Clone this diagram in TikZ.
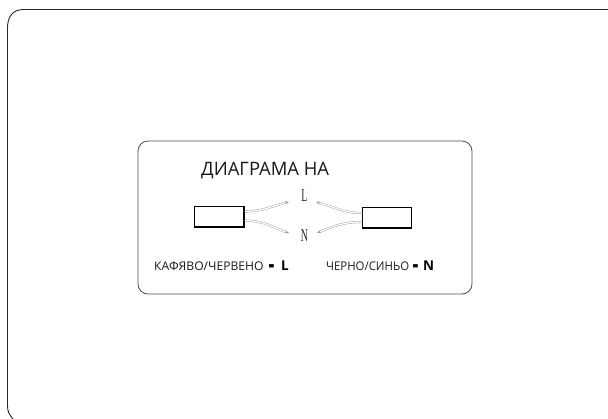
\documentclass[tikz,border=0pt]{standalone}
\usepackage{fontspec}
\usetikzlibrary{arrows.meta}
\setmainfont{Open Sans}
\newfontfamily\serifcond{Liberation Serif}
\begin{document}
\begin{tikzpicture}[x=1pt,y=-1pt,
  frameline/.style={draw=black!85,line width=0.9pt},
  panel/.style={draw=black!70,line width=0.8pt,rounded corners=10pt},
  boxnode/.style={draw=black,line width=1.4pt,fill=white,inner sep=0pt,minimum width=#1,minimum height=20.5pt},
  wire/.style={draw=black!40,line width=0.4pt,double=white,double distance=1.3pt,-{Stealth[length=4pt,width=3pt]}},
  termlabel/.style={font=\serifcond\fontsize{18}{18}\selectfont,xscale=0.55,inner sep=0pt,text=black!85},
  caption/.style={font=\fontsize{12}{12}\selectfont,xscale=1.01,inner sep=0pt,text=black!90,anchor=base west},
  heading/.style={font=\fontsize{18.5}{18.5}\selectfont,xscale=0.995,inner sep=0pt,text=black!90,anchor=base west},
  keyletter/.style={font=\bfseries\fontsize{13.5}{13.5}\selectfont,inner sep=0pt,text=black,anchor=base west},
  keydash/.style={font=\bfseries\fontsize{18}{18}\selectfont,yscale=1.5,inner sep=0pt,text=black}]
\useasboundingbox (0,0) rectangle (608,418);
\draw[frameline] (13,419) .. controls (9,414) and (7.5,412) .. (7.5,405) -- (7.5,28)
  .. controls (7.5,16) and (13,9.5) .. (24,9.5) -- (608,9.5);
\draw[panel] (138,141) rectangle (472,294);
\node[heading] (title) at (201,175) {ДИАГРАМА НА};
\node[boxnode=49.5pt] (lbox) at (219.3,216.8) {};
\node[boxnode=48.5pt] (rbox) at (387,217.8) {};
\node[termlabel] (lL) at (304.5,196) {L};
\node[termlabel] (lN) at (304.5,236) {N};
\coordinate (lLend) at (289,202);
\coordinate (lNend) at (289,233);
\coordinate (rLend) at (316,202);
\coordinate (rNend) at (317,233);
\draw[wire] (lbox.east |- 0,211.5) .. controls (264,211.5) and (274,205) .. (lLend);
\draw[wire] (lbox.east |- 0,220.5) .. controls (264,220.5) and (274,228) .. (lNend);
\draw[wire] (rbox.west |- 0,213) .. controls (342,213) and (332,206) .. (rLend);
\draw[wire] (rbox.west |- 0,222) .. controls (342,222) and (332,227) .. (rNend);
\node[caption] (capL) at (154,270.5) {КАФЯВО/ЧЕРВЕНО};
\node[keydash] (dashL) at (271.5,269) {-};
\node[keyletter] (letL) at (281,270.5) {L};
\node[caption,xscale=0.94] (capN) at (326,270.5) {ЧЕРНО/СИНЬО};
\node[keydash] (dashN) at (415.5,269) {-};
\node[keyletter] (letN) at (423,270.5) {N};
\end{tikzpicture}
\end{document}
